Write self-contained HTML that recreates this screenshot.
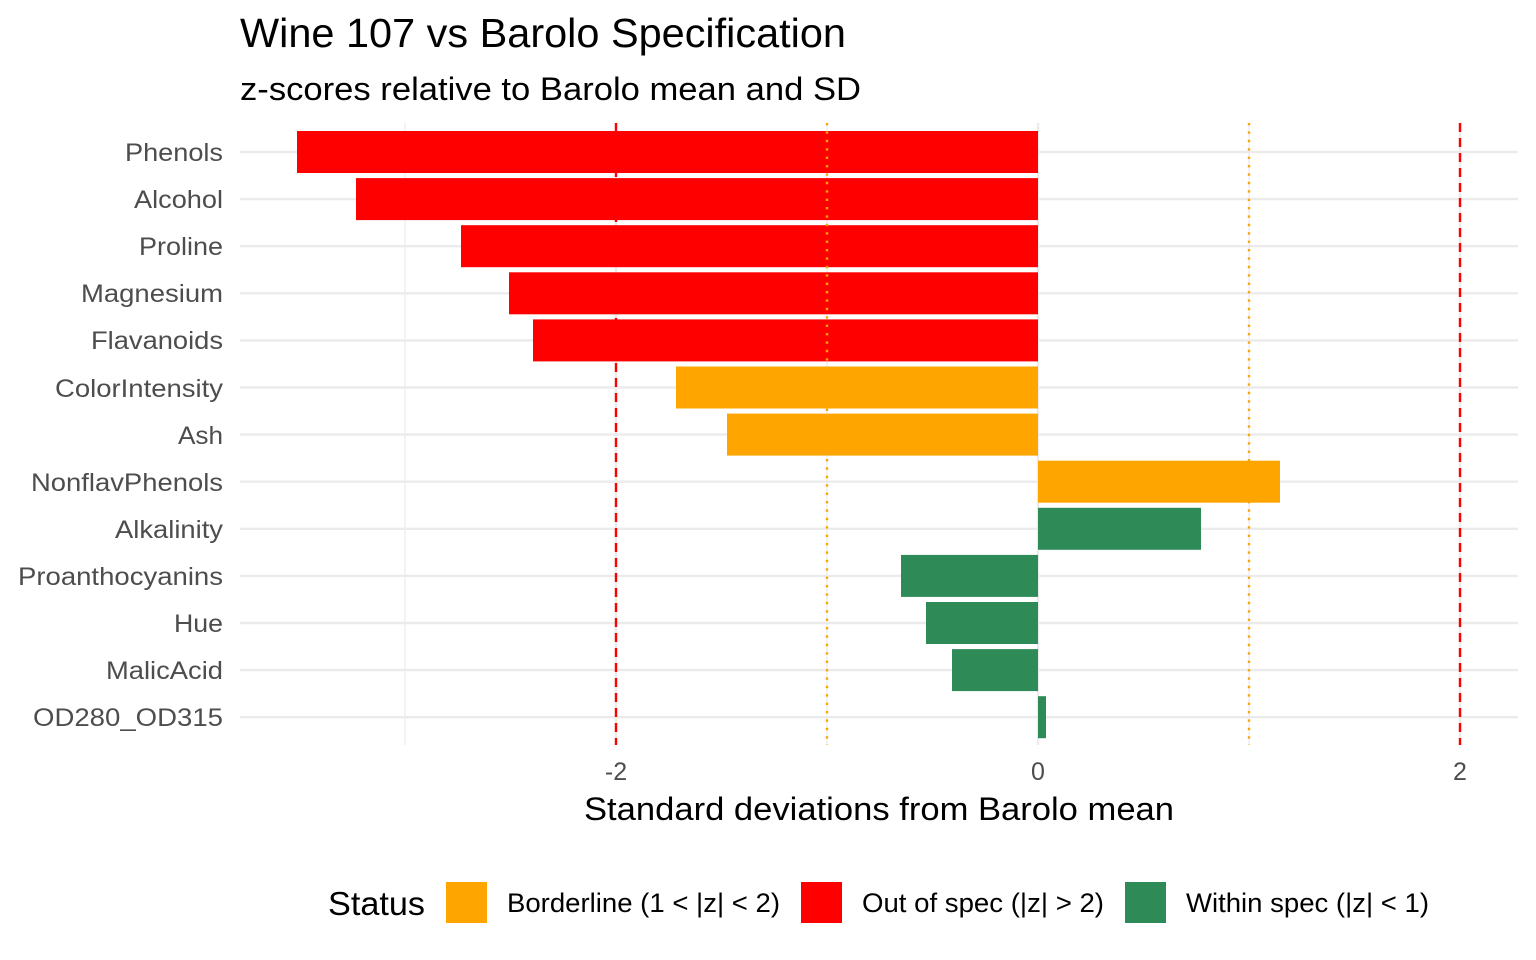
<!DOCTYPE html>
<html><head><style>body{margin:0;background:#fff}svg{display:block}text{font-family:"Liberation Sans",sans-serif}</style></head>
<body>
<svg width="1536" height="960" viewBox="0 0 1536 960" xmlns="http://www.w3.org/2000/svg">
<rect width="1536" height="960" fill="#fff"/>
<g stroke="#ebebeb">
<line x1="405" y1="123" x2="405" y2="745" stroke-width="1.2"/>
<line x1="827" y1="123" x2="827" y2="745" stroke-width="1.2"/>
<line x1="1249" y1="123" x2="1249" y2="745" stroke-width="1.2"/>
<line x1="616" y1="123" x2="616" y2="745" stroke-width="2.4"/>
<line x1="1038" y1="123" x2="1038" y2="745" stroke-width="2.4"/>
<line x1="1460" y1="123" x2="1460" y2="745" stroke-width="2.4"/>
<g stroke-width="2.4">
<line x1="240" x2="1518" y1="152" y2="152"/><line x1="240" x2="1518" y1="199.1" y2="199.1"/><line x1="240" x2="1518" y1="246.2" y2="246.2"/><line x1="240" x2="1518" y1="293.3" y2="293.3"/><line x1="240" x2="1518" y1="340.4" y2="340.4"/><line x1="240" x2="1518" y1="387.5" y2="387.5"/><line x1="240" x2="1518" y1="434.6" y2="434.6"/><line x1="240" x2="1518" y1="481.7" y2="481.7"/><line x1="240" x2="1518" y1="528.8" y2="528.8"/><line x1="240" x2="1518" y1="575.9" y2="575.9"/><line x1="240" x2="1518" y1="623" y2="623"/><line x1="240" x2="1518" y1="670.1" y2="670.1"/><line x1="240" x2="1518" y1="717.2" y2="717.2"/>
</g></g>
<g>
<rect x="297" y="131" width="741" height="42" fill="#ff0000"/>
<rect x="356" y="178.1" width="682" height="42" fill="#ff0000"/>
<rect x="461" y="225.2" width="577" height="42" fill="#ff0000"/>
<rect x="509" y="272.3" width="529" height="42" fill="#ff0000"/>
<rect x="533" y="319.4" width="505" height="42" fill="#ff0000"/>
<rect x="676" y="366.5" width="362" height="42" fill="#ffa500"/>
<rect x="727" y="413.6" width="311" height="42" fill="#ffa500"/>
<rect x="1038" y="460.7" width="242" height="42" fill="#ffa500"/>
<rect x="1038" y="507.8" width="163" height="42" fill="#2e8b57"/>
<rect x="901" y="554.9" width="137" height="42" fill="#2e8b57"/>
<rect x="926" y="602" width="112" height="42" fill="#2e8b57"/>
<rect x="952" y="649.1" width="86" height="42" fill="#2e8b57"/>
<rect x="1038" y="696.2" width="8" height="42" fill="#2e8b57"/>
</g>
<g stroke-width="2.4">
<line x1="616" y1="123" x2="616" y2="745" stroke="#ff0000" stroke-dasharray="9,6"/>
<line x1="1460" y1="123" x2="1460" y2="745" stroke="#ff0000" stroke-dasharray="9,6"/>
<line x1="827" y1="123" x2="827" y2="745" stroke="#ffa500" stroke-dasharray="2.4,6"/>
<line x1="1249" y1="123" x2="1249" y2="745" stroke="#ffa500" stroke-dasharray="2.4,6"/>
</g>
<g font-size="25" fill="#4d4d4d" lengthAdjust="spacingAndGlyphs">
<text x="125" y="161" textLength="98" lengthAdjust="spacingAndGlyphs">Phenols</text>
<text x="134" y="208" textLength="89" lengthAdjust="spacingAndGlyphs">Alcohol</text>
<text x="139" y="255" textLength="84" lengthAdjust="spacingAndGlyphs">Proline</text>
<text x="81" y="302" textLength="142" lengthAdjust="spacingAndGlyphs">Magnesium</text>
<text x="91" y="349" textLength="132" lengthAdjust="spacingAndGlyphs">Flavanoids</text>
<text x="55" y="397" textLength="168" lengthAdjust="spacingAndGlyphs">ColorIntensity</text>
<text x="178" y="444" textLength="45" lengthAdjust="spacingAndGlyphs">Ash</text>
<text x="31" y="491" textLength="192" lengthAdjust="spacingAndGlyphs">NonflavPhenols</text>
<text x="115" y="538" textLength="108" lengthAdjust="spacingAndGlyphs">Alkalinity</text>
<text x="18" y="585" textLength="205" lengthAdjust="spacingAndGlyphs">Proanthocyanins</text>
<text x="174" y="632" textLength="49" lengthAdjust="spacingAndGlyphs">Hue</text>
<text x="106" y="679" textLength="117" lengthAdjust="spacingAndGlyphs">MalicAcid</text>
<text x="33" y="726" textLength="190" lengthAdjust="spacingAndGlyphs">OD280_OD315</text>
</g>
<g font-size="25" fill="#4d4d4d" text-anchor="middle">
<text x="616" y="780">-2</text><text x="1038" y="780">0</text><text x="1460" y="780">2</text>
</g>
<text x="584" y="820" font-size="32" textLength="590" lengthAdjust="spacingAndGlyphs">Standard deviations from Barolo mean</text>
<text x="240" y="47" font-size="41" textLength="606" lengthAdjust="spacingAndGlyphs">Wine 107 vs Barolo Specification</text>
<text x="240" y="100" font-size="32" textLength="621" lengthAdjust="spacingAndGlyphs">z-scores relative to Barolo mean and SD</text>
<text x="328" y="915" font-size="33" textLength="97" lengthAdjust="spacingAndGlyphs">Status</text>
<rect x="446" y="882" width="41" height="41" fill="#ffa500"/>
<text x="507" y="912" font-size="27" textLength="273" lengthAdjust="spacingAndGlyphs">Borderline (1 &lt; |z| &lt; 2)</text>
<rect x="801" y="882" width="41" height="41" fill="#ff0000"/>
<text x="862" y="912" font-size="27" textLength="242" lengthAdjust="spacingAndGlyphs">Out of spec (|z| &gt; 2)</text>
<rect x="1125" y="882" width="41" height="41" fill="#2e8b57"/>
<text x="1186" y="912" font-size="27" textLength="243" lengthAdjust="spacingAndGlyphs">Within spec (|z| &lt; 1)</text>
</svg>
</body></html>
